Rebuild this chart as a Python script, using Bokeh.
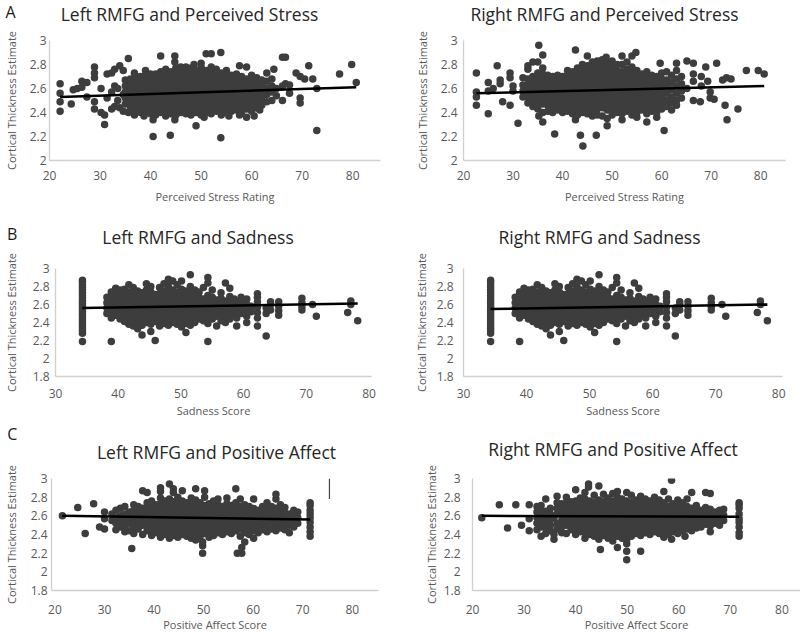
from bokeh.plotting import figure
from bokeh.layouts import column, row
from bokeh.models import Range1d, FixedTicker
from bokeh.core.properties import value
from bokeh.embed import file_html
from bokeh.resources import INLINE

# ---------------- data ----------------
# each entry: (x value, [y values observed at that x])
a_left_cols = [
    (22.1, [2.41, 2.49, 2.56, 2.64]), (24.3, [2.47]), (24.7, [2.59]), (25.5, [2.60]),
    (26.4, [2.61, 2.66]), (27.4, [2.53, 2.65]), (28.9, [2.43, 2.49, 2.69, 2.73, 2.78]),
    (30.2, [2.40, 2.60]), (30.9, [2.30, 2.38]), (31.4, [2.52, 2.72]),
    (32.3, [2.43, 2.57, 2.73]), (32.9, [2.45, 2.62, 2.76]), (33.5, [2.50, 2.60]),
    (33.9, [2.44, 2.79]), (34.6, [2.41, 2.55, 2.75]), (35.6, [2.40, 2.85]),
    (35, [2.47, 2.52, 2.57, 2.62, 2.67]), (36, [2.43, 2.48, 2.53, 2.58, 2.63, 2.68]),
    (36.8, [2.38, 2.73]), (37, [2.42, 2.47, 2.52, 2.57, 2.62, 2.67, 2.70]),
    (38, [2.40, 2.45, 2.50, 2.55, 2.60, 2.65, 2.70]), (38.7, [2.37]),
    (39, [2.41, 2.46, 2.51, 2.56, 2.61, 2.66, 2.71, 2.75]),
    (40, [2.39, 2.44, 2.49, 2.54, 2.59, 2.64, 2.69, 2.72]), (40.5, [2.20, 2.34]),
    (41, [2.38, 2.43, 2.48, 2.53, 2.58, 2.63, 2.68, 2.72]),
    (42, [2.40, 2.45, 2.50, 2.55, 2.60, 2.65, 2.70, 2.74, 2.87]),
    (43, [2.37, 2.42, 2.47, 2.52, 2.57, 2.62, 2.67, 2.72, 2.76]), (43.9, [2.21]),
    (44, [2.39, 2.44, 2.49, 2.54, 2.59, 2.64, 2.69, 2.74]), (44.8, [2.34, 2.82, 2.87]),
    (45, [2.38, 2.43, 2.48, 2.53, 2.58, 2.63, 2.68, 2.73, 2.77]),
    (46, [2.40, 2.45, 2.50, 2.55, 2.60, 2.65, 2.70, 2.75, 2.78]),
    (47, [2.39, 2.44, 2.49, 2.54, 2.59, 2.64, 2.69, 2.74, 2.78]),
    (48, [2.38, 2.43, 2.48, 2.53, 2.58, 2.63, 2.68, 2.73, 2.77]), (48.6, [2.80]),
    (49, [2.29, 2.40, 2.45, 2.50, 2.55, 2.60, 2.65, 2.70, 2.75]),
    (50, [2.38, 2.43, 2.48, 2.53, 2.58, 2.63, 2.68, 2.73, 2.78, 2.81]), (50.6, [2.36]),
    (51, [2.40, 2.45, 2.50, 2.55, 2.60, 2.65, 2.70, 2.75, 2.89]),
    (52, [2.39, 2.44, 2.49, 2.54, 2.59, 2.64, 2.69, 2.74, 2.78, 2.89]),
    (53, [2.41, 2.46, 2.51, 2.56, 2.61, 2.66, 2.71, 2.76]), (53.9, [2.19, 2.90]),
    (54, [2.38, 2.43, 2.48, 2.53, 2.58, 2.63, 2.68, 2.73]),
    (55, [2.40, 2.45, 2.50, 2.55, 2.60, 2.65, 2.70, 2.75]), (55.5, [2.37]),
    (56, [2.41, 2.46, 2.51, 2.56, 2.61, 2.66, 2.71]),
    (57, [2.42, 2.47, 2.52, 2.57, 2.62, 2.67, 2.72]), (57.6, [2.38, 2.79]),
    (58, [2.40, 2.45, 2.50, 2.55, 2.60, 2.65, 2.70]),
    (59, [2.36, 2.43, 2.48, 2.53, 2.58, 2.63, 2.68, 2.78]),
    (60, [2.41, 2.46, 2.51, 2.56, 2.61, 2.66, 2.71]), (60.5, [2.37]),
    (61, [2.44, 2.49, 2.54, 2.59, 2.64, 2.69]), (61.6, [2.42]),
    (62, [2.46, 2.51, 2.56, 2.62, 2.67]), (63, [2.49, 2.55, 2.60, 2.66, 2.73]),
    (64, [2.50, 2.57, 2.62, 2.68]), (64.4, [2.76]), (64.9, [2.54, 2.60]),
    (66.1, [2.50, 2.62, 2.86]), (66.7, [2.64, 2.86]), (67.5, [2.56, 2.63]),
    (68.8, [2.73]), (69.6, [2.48, 2.52, 2.70]), (70.5, [2.68]), (71.3, [2.79]),
    (72.1, [2.68]), (72.9, [2.25, 2.60]), (77.4, [2.72]), (79.8, [2.80]), (80.7, [2.65]),
]

a_right_cols = [
    (22.6, [2.46, 2.53, 2.57, 2.73]), (25.0, [2.39, 2.58, 2.65]), (26.0, [2.60]),
    (26.8, [2.79]), (27.4, [2.64, 2.67]), (27.9, [2.49]), (29.4, [2.46, 2.69, 2.73]),
    (30.0, [2.58, 2.62]), (31.0, [2.31]), (32, [2.53, 2.58, 2.63, 2.69]),
    (33, [2.48, 2.53, 2.58, 2.63, 2.68, 2.76, 2.79]),
    (34, [2.45, 2.50, 2.55, 2.60, 2.65, 2.70, 2.82]),
    (35, [2.43, 2.48, 2.53, 2.58, 2.63, 2.68, 2.73, 2.82]), (35.2, [2.37, 2.96]),
    (36, [2.32, 2.40, 2.47, 2.52, 2.57, 2.62, 2.67, 2.72, 2.77, 2.88]),
    (37, [2.41, 2.46, 2.51, 2.56, 2.61, 2.66, 2.71]),
    (38, [2.40, 2.45, 2.50, 2.55, 2.60, 2.65, 2.70]), (38.4, [2.22]),
    (39, [2.42, 2.47, 2.52, 2.57, 2.62, 2.67, 2.71]),
    (40, [2.40, 2.45, 2.50, 2.55, 2.60, 2.65, 2.70]),
    (41, [2.41, 2.46, 2.51, 2.56, 2.61, 2.66, 2.71, 2.75]),
    (42, [2.39, 2.44, 2.49, 2.54, 2.59, 2.64, 2.69, 2.74]), (42.6, [2.34, 2.92]),
    (43, [2.38, 2.43, 2.48, 2.53, 2.58, 2.63, 2.68, 2.73, 2.77]), (43.6, [2.21]),
    (44, [2.40, 2.45, 2.50, 2.55, 2.60, 2.65, 2.70, 2.75, 2.80]), (44.1, [2.12]),
    (45, [2.39, 2.44, 2.49, 2.54, 2.59, 2.64, 2.69, 2.74, 2.79, 2.87]),
    (46, [2.37, 2.42, 2.47, 2.52, 2.57, 2.62, 2.67, 2.72, 2.77, 2.82]), (46.8, [2.21]),
    (47, [2.38, 2.43, 2.48, 2.53, 2.58, 2.63, 2.68, 2.73, 2.78, 2.83]),
    (48, [2.37, 2.44, 2.49, 2.54, 2.59, 2.64, 2.69, 2.74, 2.79, 2.84]), (48.8, [2.86]),
    (49, [2.29, 2.35, 2.42, 2.47, 2.52, 2.57, 2.62, 2.67, 2.72, 2.77, 2.82]),
    (50, [2.38, 2.43, 2.48, 2.53, 2.58, 2.63, 2.68, 2.73, 2.78, 2.83]),
    (51, [2.40, 2.45, 2.50, 2.55, 2.60, 2.65, 2.70, 2.75, 2.80]),
    (52, [2.34, 2.39, 2.44, 2.49, 2.54, 2.59, 2.64, 2.69, 2.74, 2.80, 2.87]),
    (53, [2.41, 2.46, 2.51, 2.56, 2.61, 2.66, 2.71, 2.76, 2.82]),
    (54, [2.38, 2.43, 2.48, 2.53, 2.58, 2.63, 2.68, 2.73, 2.78, 2.87]), (54.8, [2.90]),
    (55, [2.36, 2.40, 2.45, 2.50, 2.55, 2.60, 2.65, 2.70, 2.75]),
    (56, [2.42, 2.47, 2.52, 2.57, 2.62, 2.67, 2.72]),
    (57, [2.32, 2.39, 2.44, 2.49, 2.54, 2.59, 2.64, 2.69, 2.74]),
    (58, [2.41, 2.46, 2.51, 2.56, 2.61, 2.66, 2.71]),
    (59, [2.36, 2.40, 2.45, 2.50, 2.55, 2.60, 2.65, 2.70]), (59.7, [2.81]),
    (60, [2.43, 2.48, 2.53, 2.58, 2.63, 2.68, 2.73]), (60.5, [2.25]),
    (61, [2.45, 2.50, 2.56, 2.62, 2.67, 2.74]), (62, [2.42, 2.48, 2.53, 2.59, 2.65, 2.71]),
    (63, [2.46, 2.50, 2.56, 2.62, 2.68, 2.75, 2.81]), (64, [2.52, 2.58, 2.64, 2.70]),
    (65.1, [2.60, 2.83]), (66.4, [2.50, 2.66, 2.72, 2.81]), (67.8, [2.49]),
    (68, [2.62, 2.70]), (68.9, [2.78]), (69.3, [2.66]), (69.8, [2.52, 2.57]),
    (70.6, [2.51]), (71.1, [2.81]), (72.3, [2.67]), (72.8, [2.46]), (73.1, [2.69]),
    (73.2, [2.34]), (74.0, [2.68]), (75.4, [2.43]), (77.1, [2.75]), (79.5, [2.75]),
    (80.7, [2.72]),
]

b_left_cols = [
    (34.3, [2.19, 2.28, 2.31, 2.34, 2.37, 2.40, 2.43, 2.46, 2.49, 2.52, 2.55, 2.58,
            2.61, 2.64, 2.67, 2.70, 2.73, 2.76, 2.79, 2.82, 2.85, 2.87]),
    (38.2, [2.50, 2.56, 2.62, 2.68]), (38.9, [2.19, 2.45, 2.52, 2.58, 2.64, 2.70, 2.74]),
    (39.6, [2.48, 2.55, 2.61, 2.67, 2.73, 2.78]), (40.3, [2.44, 2.50, 2.57, 2.63, 2.69, 2.76]),
    (41.0, [2.41, 2.47, 2.53, 2.59, 2.65, 2.71, 2.77]),
    (41.7, [2.38, 2.44, 2.50, 2.56, 2.62, 2.68, 2.74, 2.82]),
    (42.4, [2.36, 2.42, 2.48, 2.54, 2.60, 2.66, 2.72, 2.79]),
    (43.1, [2.33, 2.39, 2.45, 2.51, 2.57, 2.63, 2.69, 2.75]),
    (43.8, [2.26, 2.37, 2.43, 2.49, 2.55, 2.61, 2.67, 2.73]),
    (44.5, [2.40, 2.46, 2.52, 2.58, 2.64, 2.70, 2.76, 2.83]),
    (45.2, [2.30, 2.38, 2.44, 2.50, 2.56, 2.62, 2.68, 2.74, 2.80]),
    (45.9, [2.20, 2.41, 2.47, 2.53, 2.59, 2.65, 2.71]),
    (46.6, [2.36, 2.42, 2.48, 2.54, 2.60, 2.66, 2.72, 2.79]),
    (47.3, [2.39, 2.45, 2.51, 2.57, 2.63, 2.69, 2.75, 2.83]),
    (48.0, [2.37, 2.43, 2.49, 2.55, 2.61, 2.67, 2.73, 2.80, 2.88]),
    (48.7, [2.40, 2.46, 2.52, 2.58, 2.64, 2.70, 2.76, 2.86]),
    (49.4, [2.38, 2.44, 2.50, 2.56, 2.62, 2.68, 2.74, 2.82]),
    (50.1, [2.35, 2.41, 2.47, 2.53, 2.59, 2.65, 2.71, 2.77, 2.86]),
    (50.8, [2.29, 2.39, 2.45, 2.51, 2.57, 2.63, 2.69, 2.75]),
    (51.5, [2.37, 2.43, 2.49, 2.55, 2.61, 2.67, 2.73, 2.80, 2.93]),
    (52.2, [2.40, 2.46, 2.52, 2.58, 2.64, 2.70, 2.76]),
    (52.9, [2.44, 2.50, 2.56, 2.62, 2.68, 2.74]),
    (53.6, [2.42, 2.48, 2.54, 2.60, 2.66, 2.79]),
    (54.3, [2.19, 2.39, 2.45, 2.51, 2.57, 2.63, 2.70, 2.84, 2.90]),
    (55.0, [2.44, 2.50, 2.56, 2.62, 2.68, 2.76]), (55.7, [2.36, 2.47, 2.53, 2.59, 2.65]),
    (56.4, [2.42, 2.48, 2.54, 2.60, 2.67, 2.73]), (57.1, [2.40, 2.46, 2.52, 2.58, 2.64, 2.84]),
    (57.8, [2.44, 2.50, 2.56, 2.62, 2.69, 2.78]), (58.5, [2.48, 2.54, 2.60, 2.66]),
    (58.9, [2.36, 2.45, 2.52, 2.58, 2.64]), (59.6, [2.50, 2.56, 2.62, 2.68]),
    (60.5, [2.40, 2.47, 2.53, 2.60, 2.66]), (61.2, [2.52, 2.58]),
    (62.2, [2.36, 2.45, 2.51, 2.57, 2.63, 2.68, 2.72]), (63.6, [2.25, 2.50, 2.56]),
    (64.3, [2.54, 2.60, 2.63]), (65.6, [2.48, 2.53, 2.58, 2.63]),
    (69.3, [2.54, 2.58, 2.62, 2.67]), (71.0, [2.60]), (71.6, [2.47]), (76.6, [2.51]),
    (77.1, [2.60, 2.64]), (78.2, [2.42]),
]
b_right_cols = b_left_cols  # the two sadness panels show the same scatter

c_left_cols = [
    (21.5, [2.60]), (24.6, [2.69]), (26.1, [2.41]), (27.8, [2.73]), (29.0, [2.48]),
    (30.0, [2.46, 2.57, 2.64]), (31.5, [2.55, 2.62]), (32.3, [2.45, 2.52, 2.58, 2.66]),
    (33.2, [2.48, 2.54, 2.60, 2.68]), (34.1, [2.43, 2.50, 2.56, 2.62, 2.70]),
    (35.0, [2.44, 2.52, 2.58, 2.64]), (35.5, [2.25]),
    (35.9, [2.41, 2.47, 2.53, 2.60, 2.66, 2.72]), (36.8, [2.46, 2.52, 2.58, 2.64, 2.70]),
    (37.7, [2.40, 2.50, 2.56, 2.62, 2.68, 2.87]),
    (38.6, [2.44, 2.50, 2.56, 2.62, 2.68, 2.74, 2.85]),
    (39.5, [2.39, 2.45, 2.51, 2.57, 2.63, 2.69, 2.76]),
    (40.4, [2.42, 2.48, 2.54, 2.60, 2.66, 2.72]),
    (41.3, [2.37, 2.43, 2.49, 2.55, 2.61, 2.67, 2.73, 2.79, 2.86, 2.90]),
    (42.2, [2.40, 2.46, 2.52, 2.58, 2.64, 2.70, 2.76]),
    (43.1, [2.36, 2.42, 2.48, 2.54, 2.60, 2.66, 2.72, 2.78, 2.94]),
    (43.9, [2.39, 2.45, 2.51, 2.57, 2.63, 2.69, 2.75, 2.85, 2.89]),
    (44.8, [2.37, 2.43, 2.49, 2.55, 2.61, 2.67, 2.73, 2.80]),
    (45.7, [2.40, 2.46, 2.52, 2.58, 2.64, 2.70, 2.76, 2.87]),
    (46.6, [2.38, 2.44, 2.50, 2.56, 2.62, 2.68, 2.74]),
    (47.5, [2.36, 2.42, 2.48, 2.54, 2.60, 2.66, 2.72, 2.79]),
    (48.4, [2.34, 2.40, 2.46, 2.52, 2.58, 2.64, 2.70, 2.77, 2.89]),
    (49.3, [2.38, 2.44, 2.50, 2.56, 2.62, 2.68, 2.74]), (49.8, [2.20, 2.28, 2.32]),
    (50.2, [2.41, 2.47, 2.53, 2.59, 2.65, 2.71, 2.80, 2.87]),
    (51.1, [2.37, 2.43, 2.49, 2.55, 2.61, 2.67, 2.73]),
    (52.0, [2.39, 2.45, 2.51, 2.57, 2.63, 2.69, 2.76]),
    (52.9, [2.42, 2.48, 2.54, 2.60, 2.66, 2.72, 2.78]),
    (53.8, [2.40, 2.46, 2.52, 2.58, 2.64, 2.70]),
    (54.7, [2.43, 2.49, 2.55, 2.61, 2.67, 2.73, 2.79]),
    (55.6, [2.41, 2.47, 2.53, 2.59, 2.65, 2.71]),
    (56.5, [2.44, 2.50, 2.56, 2.62, 2.68, 2.74, 2.89]), (56.8, [2.20]),
    (57.4, [2.38, 2.46, 2.52, 2.58, 2.64, 2.70, 2.78]), (57.7, [2.20, 2.26]),
    (58.3, [2.32, 2.42, 2.48, 2.54, 2.60, 2.66, 2.72]),
    (59.2, [2.40, 2.46, 2.52, 2.58, 2.64, 2.70]),
    (60.1, [2.36, 2.44, 2.50, 2.56, 2.62, 2.68, 2.78]),
    (61.0, [2.42, 2.48, 2.54, 2.60, 2.66]), (61.9, [2.45, 2.51, 2.57, 2.63, 2.70]),
    (62.8, [2.43, 2.49, 2.55, 2.61, 2.67, 2.74]), (63.7, [2.46, 2.52, 2.58, 2.64, 2.70]),
    (64.6, [2.44, 2.50, 2.56, 2.62, 2.68, 2.78, 2.83]),
    (65.5, [2.47, 2.53, 2.59, 2.65, 2.72]), (66.4, [2.45, 2.51, 2.57, 2.63, 2.69]),
    (67.3, [2.42, 2.50, 2.56, 2.62]), (68.2, [2.48, 2.54, 2.60, 2.66]),
    (69.0, [2.52, 2.58, 2.64]),
    (71.5, [2.38, 2.43, 2.48, 2.53, 2.58, 2.62, 2.66, 2.71, 2.74]),
]

c_right_cols = [
    (21.8, [2.58]), (25.2, [2.72]), (26.8, [2.47]), (28.4, [2.72]), (29.5, [2.50]),
    (31.0, [2.44, 2.57, 2.72]), (32.5, [2.45, 2.52, 2.58, 2.64, 2.70]),
    (33.3, [2.38, 2.48, 2.54, 2.60, 2.66, 2.71]), (34.2, [2.41, 2.47, 2.53, 2.59, 2.65, 2.78]),
    (35.1, [2.44, 2.50, 2.56, 2.62, 2.68]), (35.8, [2.35, 2.40, 2.58]),
    (36.4, [2.46, 2.52, 2.62, 2.68, 2.74, 2.81]), (37.3, [2.42, 2.48, 2.55, 2.61, 2.67, 2.73]),
    (38.2, [2.41, 2.50, 2.56, 2.62, 2.68, 2.74, 2.80]),
    (39.1, [2.45, 2.51, 2.57, 2.63, 2.69, 2.75]),
    (40.0, [2.40, 2.46, 2.52, 2.58, 2.64, 2.70, 2.76, 2.88]),
    (40.9, [2.43, 2.49, 2.55, 2.61, 2.67, 2.73, 2.79]),
    (41.8, [2.36, 2.42, 2.48, 2.54, 2.60, 2.66, 2.72, 2.78, 2.85]), (42.5, [2.91, 2.94]),
    (42.7, [2.40, 2.46, 2.52, 2.58, 2.64, 2.70, 2.76]),
    (43.6, [2.38, 2.44, 2.50, 2.56, 2.62, 2.68, 2.74, 2.82]),
    (44.5, [2.35, 2.41, 2.47, 2.53, 2.59, 2.65, 2.71, 2.77, 2.92]), (44.8, [2.24]),
    (45.4, [2.39, 2.45, 2.51, 2.57, 2.63, 2.69, 2.75, 2.83]),
    (46.3, [2.36, 2.42, 2.48, 2.54, 2.60, 2.66, 2.72, 2.79]),
    (47.2, [2.33, 2.40, 2.46, 2.52, 2.58, 2.64, 2.70, 2.76, 2.84]),
    (48.1, [2.26, 2.38, 2.44, 2.50, 2.56, 2.62, 2.68, 2.74, 2.80, 2.86]),
    (49.0, [2.36, 2.42, 2.48, 2.54, 2.60, 2.66, 2.72, 2.78]),
    (49.9, [2.13, 2.22, 2.30, 2.34, 2.40, 2.46, 2.52, 2.58, 2.64, 2.70, 2.76, 2.85]),
    (50.8, [2.38, 2.44, 2.50, 2.56, 2.62, 2.68, 2.74, 2.82]),
    (51.7, [2.41, 2.47, 2.53, 2.59, 2.65, 2.71, 2.77]),
    (52.6, [2.22, 2.39, 2.45, 2.51, 2.57, 2.63, 2.69, 2.75, 2.81]),
    (53.5, [2.42, 2.48, 2.54, 2.60, 2.66, 2.72, 2.78]),
    (54.4, [2.40, 2.46, 2.52, 2.58, 2.64, 2.70, 2.76]),
    (55.3, [2.43, 2.49, 2.55, 2.61, 2.67, 2.73, 2.80]),
    (56.2, [2.41, 2.47, 2.53, 2.59, 2.65, 2.71, 2.77]),
    (57.1, [2.37, 2.44, 2.50, 2.56, 2.62, 2.68, 2.74, 2.86]),
    (58.0, [2.40, 2.46, 2.52, 2.58, 2.64, 2.70, 2.78]), (58.6, [2.35, 2.98]),
    (58.9, [2.43, 2.49, 2.55, 2.61, 2.67, 2.73]),
    (59.8, [2.41, 2.47, 2.53, 2.59, 2.65, 2.71, 2.77]),
    (60.7, [2.44, 2.50, 2.56, 2.62, 2.68, 2.74]), (61.2, [2.38]),
    (61.6, [2.46, 2.52, 2.58, 2.64, 2.70, 2.78]), (62.5, [2.44, 2.50, 2.56, 2.62, 2.68, 2.85]),
    (63.4, [2.47, 2.53, 2.59, 2.65, 2.71]), (64.3, [2.48, 2.54, 2.60, 2.66]),
    (65.2, [2.51, 2.57, 2.63, 2.69, 2.85]), (66.1, [2.43, 2.49, 2.55, 2.61, 2.67, 2.84]),
    (67.0, [2.52, 2.58, 2.64]), (67.9, [2.50, 2.56, 2.62, 2.66]), (68.7, [2.55, 2.61, 2.67]),
    (71.7, [2.38, 2.42, 2.48, 2.53, 2.57, 2.62, 2.68, 2.72, 2.74]),
]

# trend lines (end points)
a_left_fit_x, a_left_fit_y = [22.1, 80.7], [2.53, 2.61]
a_right_fit_x, a_right_fit_y = [22.6, 80.7], [2.56, 2.62]
b_left_fit_x, b_left_fit_y = [34.3, 78.2], [2.56, 2.61]
b_right_fit_x, b_right_fit_y = [34.3, 78.2], [2.55, 2.60]
c_left_fit_x, c_left_fit_y = [21.5, 71.5], [2.60, 2.56]
c_right_fit_x, c_right_fit_y = [21.8, 71.7], [2.60, 2.59]

# stray vertical stroke visible in panel C (left)
c_left_mark_x, c_left_mark_y = [75.4, 75.4], [2.78, 3.0]

# axes
x_ticks_20_80 = [20, 30, 40, 50, 60, 70, 80]
x_ticks_30_80 = [30, 40, 50, 60, 70, 80]
y_ticks_a = [2, 2.2, 2.4, 2.6, 2.8, 3]
y_labels_a = ["2", "2.2", "2.4", "2.6", "2.8", "3"]
y_ticks_bc = [1.8, 2, 2.2, 2.4, 2.6, 2.8, 3]
y_labels_bc = ["1.8", "2", "2.2", "2.4", "2.6", "2.8", "3"]

titles = ["Left RMFG and Perceived Stress", "Right RMFG and Perceived Stress",
          "Left RMFG and Sadness", "Right RMFG and Sadness",
          "Left RMFG and Positive Affect", "Right RMFG and Positive Affect"]
x_labels = ["Perceived Stress Rating", "Perceived Stress Rating",
            "Sadness Score", "Sadness Score",
            "Positive Affect Score", "Positive Affect Score"]
y_label = "Cortical Thickness Estimate"
panel_letters = ["A", "B", "C"]

# ---------------- styling / layout ----------------
FONT = "Open Sans"
DOT = "#3d3d3d"
TXT = "#595959"
AXIS = "#d0d0d0"
PAGE_W = 800
CELL_W = 400

# header strips: height, letter position, left-title position, right-title position
headers = [
    dict(h=26, letter=(10, 11), left=(189, 13), right=(604, 13)),
    dict(h=40, letter=(11.7, 23.3), left=(197.5, 26), right=(599, 26.7)),
    dict(h=42, letter=(11.7, 13.3), left=(216, 31), right=(612.5, 28.3)),
]

# plot boxes: (height, border left, right, top, bottom) and axis standoffs
geo = [
    dict(box=(184, 47, 20, 14, 50), xs=10, xals=6, ys=3, yals=8),
    dict(box=(184, 63, 15, 14, 50), xs=10, xals=6, ys=6, yals=8),
    dict(box=(170, 52, 29, 18, 44), xs=12, xals=2, ys=6, yals=11),
    dict(box=(170, 63, 18, 18, 44), xs=12, xals=2, ys=10, yals=5),
    dict(box=(172, 50, 22, 16, 44), xs=14, xals=0, ys=4, yals=9),
    dict(box=(172, 72, 0, 16, 44), xs=14, xals=0, ys=12, yals=2),
]


def expand(cols):
    xs, ys = [], []
    for x, yl in cols:
        for y in yl:
            xs.append(x)
            ys.append(y)
    return xs, ys


def make_header(hd, letter, left_title, right_title):
    height = hd["h"]
    h = figure(width=PAGE_W, height=height, x_range=Range1d(0, PAGE_W),
               y_range=Range1d(height, 0), output_backend="svg", toolbar_location=None,
               x_axis_location=None, y_axis_location=None,
               min_border=0, min_border_left=0, min_border_right=0,
               min_border_top=0, min_border_bottom=0,
               outline_line_color=None, background_fill_color="white",
               border_fill_color="white")
    h.grid.visible = False
    h.text(x=[hd["left"][0], hd["right"][0]], y=[hd["left"][1], hd["right"][1]],
           text=[left_title, right_title],
           text_font=value(FONT), text_font_size=value("17.5px"), text_color="#262626",
           text_align="center", text_baseline="middle")
    h.text(x=[hd["letter"][0]], y=[hd["letter"][1]], text=[letter],
           text_font=value(FONT), text_font_size=value("16px"), text_color="#1a1a1a",
           text_align="center", text_baseline="middle")
    return h


def make_plot(cols, fit_x, fit_y, xlabel, xr, yr, xticks, yticks, ylabels, g, mark=None):
    hgt, bl, br, bt, bb = g["box"]
    p = figure(width=CELL_W, height=hgt, x_range=Range1d(*xr), y_range=Range1d(*yr),
               output_backend="svg", toolbar_location=None,
               min_border_left=bl, min_border_right=br, min_border_top=bt,
               min_border_bottom=bb, background_fill_color="white",
               border_fill_color="white", outline_line_color=None)
    p.grid.visible = False
    xs, ys = expand(cols)
    p.scatter(xs, ys, size=7.5, fill_color=DOT, line_color=None)
    p.line(fit_x, fit_y, line_color="black", line_width=2.5)
    if mark is not None:
        p.line(mark[0], mark[1], line_color="#444444", line_width=1.2)

    for ax in (p.xaxis[0], p.yaxis[0]):
        ax.axis_line_color = AXIS
        ax.axis_line_width = 1.3
        ax.major_tick_line_color = None
        ax.minor_tick_line_color = None
        ax.major_tick_out = 0
        ax.major_tick_in = 0
        ax.minor_tick_out = 0
        ax.minor_tick_in = 0
        ax.major_label_text_font = FONT
        ax.major_label_text_font_size = "12px"
        ax.major_label_text_color = TXT
        ax.axis_label_text_font = FONT
        ax.axis_label_text_font_size = "11px"
        ax.axis_label_text_color = TXT
        ax.axis_label_text_font_style = "normal"
    p.xaxis[0].ticker = FixedTicker(ticks=xticks)
    p.yaxis[0].ticker = FixedTicker(ticks=yticks)
    p.yaxis[0].major_label_overrides = {t: s for t, s in zip(yticks, ylabels)}
    p.xaxis[0].axis_label = xlabel
    p.yaxis[0].axis_label = y_label
    p.xaxis[0].major_label_standoff = g["xs"]
    p.xaxis[0].axis_label_standoff = g["xals"]
    p.yaxis[0].major_label_standoff = g["ys"]
    p.yaxis[0].axis_label_standoff = g["yals"]
    return p


specs = [
    (a_left_cols, a_left_fit_x, a_left_fit_y, (20, 85.5), (2, 3), x_ticks_20_80,
     y_ticks_a, y_labels_a, None),
    (a_right_cols, a_right_fit_x, a_right_fit_y, (20, 85), (2, 3), x_ticks_20_80,
     y_ticks_a, y_labels_a, None),
    (b_left_cols, b_left_fit_x, b_left_fit_y, (30, 80.4), (1.8, 3), x_ticks_30_80,
     y_ticks_bc, y_labels_bc, None),
    (b_right_cols, b_right_fit_x, b_right_fit_y, (30, 80.6), (1.8, 3), x_ticks_30_80,
     y_ticks_bc, y_labels_bc, None),
    (c_left_cols, c_left_fit_x, c_left_fit_y, (19.3, 85.3), (1.8, 3), x_ticks_20_80,
     y_ticks_bc, y_labels_bc, (c_left_mark_x, c_left_mark_y)),
    (c_right_cols, c_right_fit_x, c_right_fit_y, (20, 83.6), (1.8, 3), x_ticks_20_80,
     y_ticks_bc, y_labels_bc, None),
]

plots = []
for i, (cols, fx, fy, xr, yr, xt, yt, yl, mark) in enumerate(specs):
    plots.append(make_plot(cols, fx, fy, x_labels[i], xr, yr, xt, yt, yl, geo[i], mark))

items = []
for r in range(3):
    items.append(make_header(headers[r], panel_letters[r], titles[2 * r], titles[2 * r + 1]))
    items.append(row(plots[2 * r], plots[2 * r + 1], spacing=0))

layout = column(*items, spacing=0)

with open("out.html", "w") as f:
    f.write(file_html(layout, INLINE))
